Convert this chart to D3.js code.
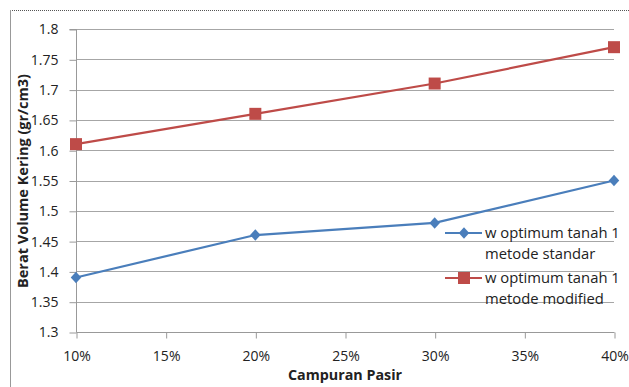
<!DOCTYPE html>
<html>
<head>
<meta charset="utf-8">
<script src="https://cdn.jsdelivr.net/npm/d3@7"></script>
<style>
  html, body { margin: 0; padding: 0; background: #fff; }
  svg { display: block; }
  text { font-family: "Open Sans", "Noto Sans", sans-serif; fill: #222; }
</style>
</head>
<body>
<svg id="chart" width="629" height="387"></svg>
<script>
// Campuran pasir (fraction of sand mixed in)
const campuran = [0.10, 0.20, 0.30, 0.40];
// Berat volume kering for each method
const metodeStandar = [1.39, 1.46, 1.48, 1.55];
const metodeModified = [1.61, 1.66, 1.71, 1.77];
const seriesNames = ["w optimum tanah 1|metode standar", "w optimum tanah 1|metode modified"];
const yTicks = [1.3, 1.35, 1.4, 1.45, 1.5, 1.55, 1.6, 1.65, 1.7, 1.75, 1.8];
const xTicks = [0.10, 0.15, 0.20, 0.25, 0.30, 0.35, 0.40];

const svg = d3.select("#chart");
const W = 629, H = 387;

// chart frame: dotted top edge, solid left edge
svg.append("line").attr("x1", 10).attr("x2", W).attr("y1", 10.5).attr("y2", 10.5)
  .attr("stroke", "#555").attr("stroke-dasharray", "1,1");
svg.append("line").attr("x1", 10.5).attr("x2", 10.5).attr("y1", 10).attr("y2", H)
  .attr("stroke", "#999");

const x = d3.scaleLinear().domain([0.10, 0.40]).range([76, 614]);
const y = d3.scaleLinear().domain([1.3, 1.8]).range([332, 29]);

// horizontal gridlines
svg.append("g").selectAll("line").data(yTicks.slice(1)).join("line")
  .attr("x1", 76).attr("x2", 614)
  .attr("y1", d => Math.round(y(d)) + 0.5).attr("y2", d => Math.round(y(d)) + 0.5)
  .attr("stroke", "#a6a6a6").attr("stroke-width", 1);

// y axis
const yAxis = d3.axisLeft(y).tickValues(yTicks).tickSize(7).tickPadding(11)
  .tickFormat(d => String(+d.toFixed(2)));
const gy = svg.append("g").attr("transform", "translate(76.5,0.5)").call(yAxis);
gy.select(".domain").attr("stroke", "#999").attr("d", `M-7,${y(1.8)}H0V${y(1.3)}`);
gy.selectAll(".tick line").attr("stroke", "#999");
gy.selectAll(".tick text").attr("font-size", 14).style("fill", "#222");

// x axis
const xAxis = d3.axisBottom(x).tickValues(xTicks).tickSize(6).tickPadding(13)
  .tickFormat(d3.format(".0%"));
const gx = svg.append("g").attr("transform", `translate(0.5,${Math.round(y(1.3)) + 0.5})`).call(xAxis);
gx.select(".domain").attr("stroke", "#999").attr("d", `M${x(0.10)},0H${x(0.40)}`);
gx.selectAll(".tick line").attr("stroke", "#999");
gx.selectAll(".tick text").attr("font-size", 14).style("fill", "#222");

// axis titles
svg.append("text").attr("transform", `translate(28,181) rotate(-90)`)
  .attr("text-anchor", "middle").attr("font-size", 14.5).attr("font-weight", "bold")
  .text("Berat Volume Kering (gr/cm3)");
svg.append("text").attr("x", 345).attr("y", 380)
  .attr("text-anchor", "middle").attr("font-size", 14.3).attr("font-weight", "bold")
  .text("Campuran Pasir");

const line = d3.line().x(d => x(d[0])).y(d => y(d[1]));
const colors = ["#4a7ebb", "#be4b48"];
const data = [metodeStandar, metodeModified].map(v => campuran.map((c, i) => [c, v[i]]));

const diamond = d3.symbol().type(d3.symbolDiamond2).size(70);

data.forEach((pts, si) => {
  svg.append("path").datum(pts).attr("d", line)
    .attr("fill", "none").attr("stroke", colors[si]).attr("stroke-width", 2.2);
  const g = svg.append("g");
  if (si === 0) {
    g.selectAll("path").data(pts).join("path")
      .attr("transform", d => `translate(${x(d[0])},${y(d[1])}) scale(1,1.1)`)
      .attr("d", diamond()).attr("fill", colors[si]);
  } else {
    g.selectAll("rect").data(pts).join("rect")
      .attr("x", d => x(d[0]) - 6).attr("y", d => y(d[1]) - 6)
      .attr("width", 12).attr("height", 12).attr("fill", colors[si]);
  }
});

// legend
const legY = [233, 278];
seriesNames.forEach((name, si) => {
  const ly = legY[si];
  const g = svg.append("g");
  g.append("line").attr("x1", 445).attr("x2", 482).attr("y1", ly).attr("y2", ly)
    .attr("stroke", colors[si]).attr("stroke-width", 2.2);
  if (si === 0) {
    g.append("path").attr("transform", `translate(464,${ly}) scale(1,1.1)`)
      .attr("d", diamond()).attr("fill", colors[si]);
  } else {
    g.append("rect").attr("x", 458).attr("y", ly - 6).attr("width", 12).attr("height", 12)
      .attr("fill", colors[si]);
  }
  const t = g.append("text").attr("x", 485).attr("y", ly + 5).attr("font-size", 14.8);
  name.split("|").forEach((part, k) => {
    t.append("tspan").attr("x", 485).attr("dy", k === 0 ? 0 : 21).text(part);
  });
});
</script>
</body>
</html>
